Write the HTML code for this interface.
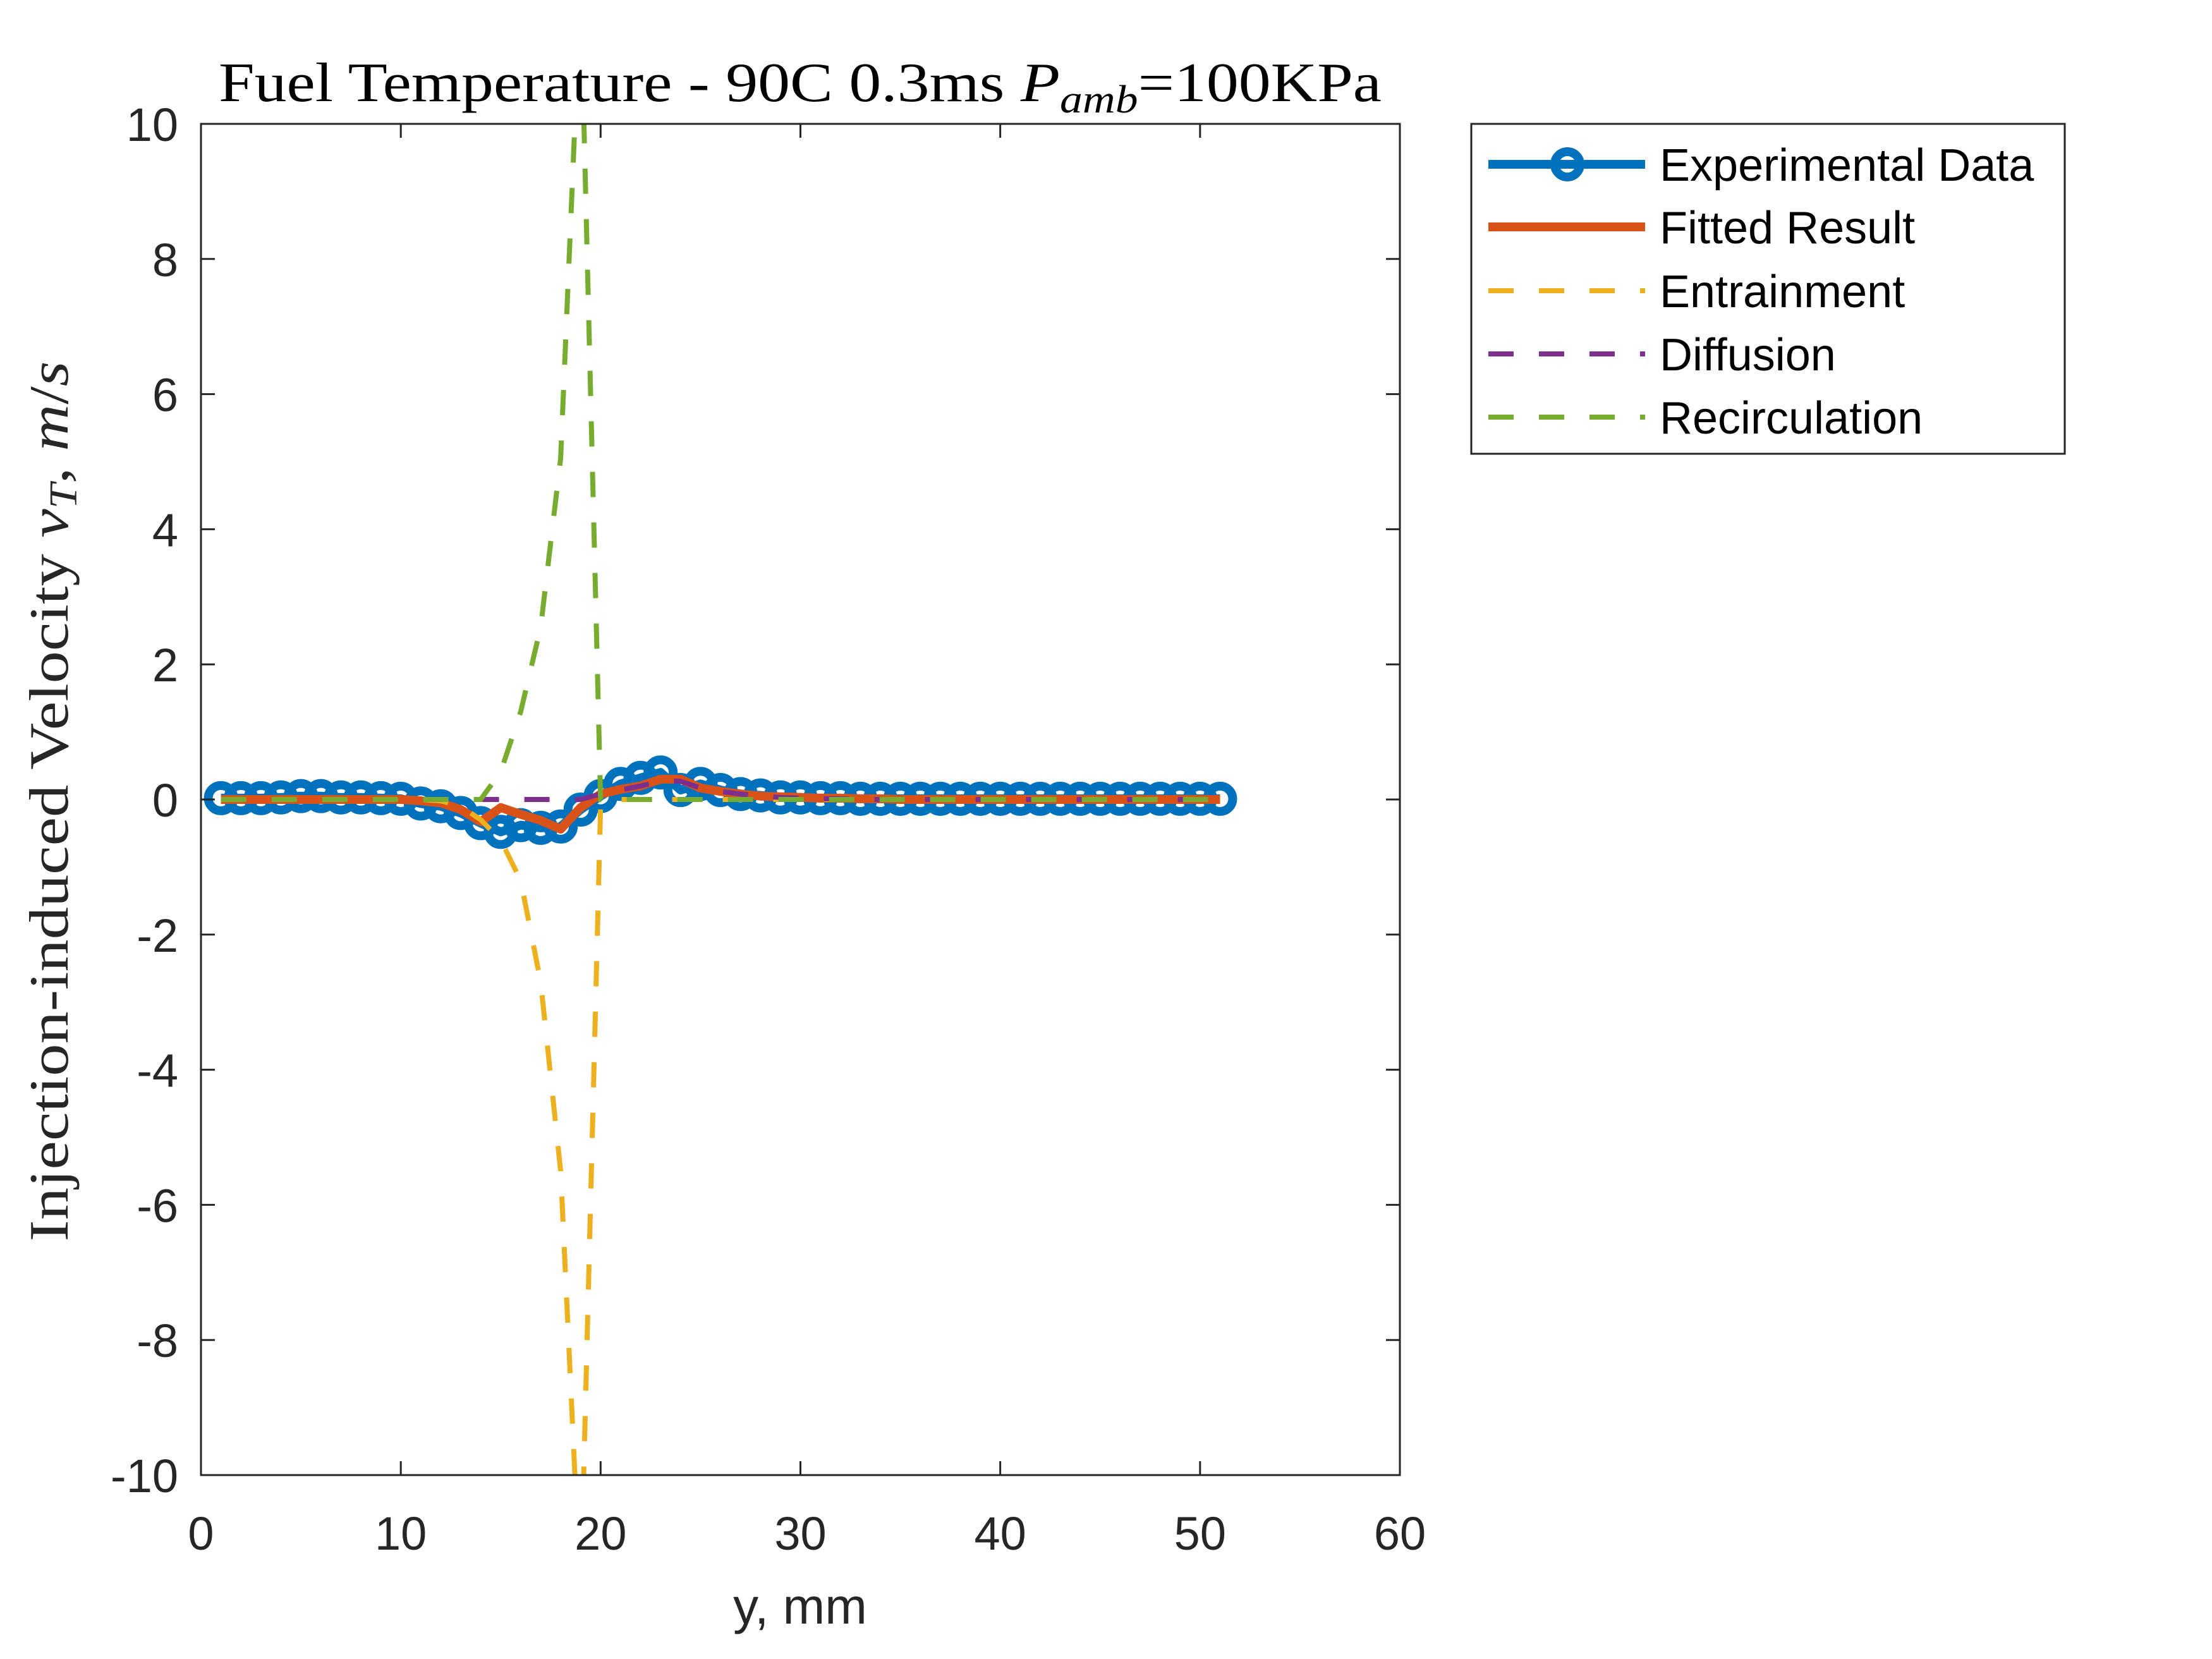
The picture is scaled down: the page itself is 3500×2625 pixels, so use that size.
<!DOCTYPE html>
<html><head><meta charset="utf-8"><style>
html,body{margin:0;padding:0;background:#fff;}
svg{display:block;}
</style></head><body>
<svg id="chart" width="3500" height="2625" viewBox="0 0 3500 2625" xmlns="http://www.w3.org/2000/svg">
<rect width="3500" height="2625" fill="#fff"/>
<text x="1266" y="160" text-anchor="middle" font-family="Liberation Serif, serif" font-size="88" fill="#000" textLength="1840" lengthAdjust="spacingAndGlyphs">Fuel Temperature - 90C 0.3ms <tspan font-style="italic">P</tspan><tspan font-style="italic" font-size="62" dy="18">amb</tspan><tspan dy="-18">=100KPa</tspan></text>
<text transform="translate(107,1268) rotate(-90)" text-anchor="middle" font-family="Liberation Serif, serif" font-size="88" fill="#262626" textLength="1393" lengthAdjust="spacingAndGlyphs">Injection-induced Velocity <tspan font-style="italic">v</tspan><tspan font-style="italic" font-size="62" dy="14">T</tspan><tspan dy="-14">, </tspan><tspan font-style="italic">m</tspan>/<tspan font-style="italic">s</tspan></text>
<text x="1266" y="2569" text-anchor="middle" font-family="Liberation Sans, sans-serif" font-size="80" fill="#262626">y, mm</text>
<g id="plot"></g>
<g id="axes"></g>
<g id="legend"></g>
</svg>
<script>
const xs = [1,2,3,4,5,6,7,8,9,10,11,12,13,14,15,16,17,18,19,20,21,22,23,24,25,26,27,28,29,30,31,32,33,34,35,36,37,38,39,40,41,42,43,44,45,46,47,48,49,50,51];
const experimental = [0.02,0.02,0.02,0.03,0.05,0.05,0.03,0.03,0.02,0.01,-0.06,-0.1,-0.2,-0.35,-0.48,-0.38,-0.42,-0.4,-0.15,0.05,0.23,0.32,0.4,0.14,0.23,0.14,0.08,0.06,0.03,0.03,0.02,0.02,0.01,0.01,0.01,0.01,0.01,0.01,0.01,0.01,0.01,0.01,0.01,0.01,0.01,0.01,0.01,0.01,0.01,0.01,0.01];
const fitted = [0,0,0,0,0,0,0,0,0,0,-0.02,-0.05,-0.15,-0.33,-0.12,-0.22,-0.31,-0.44,-0.12,0.08,0.15,0.2,0.3,0.3,0.17,0.12,0.08,0.05,0.04,0.03,0.02,0.02,0.01,0.01,0,0,0,0,0,0,0,0,0,0,0,0,0,0,0,0,0];
const entrainment = [0,0,0,0,0,0,0,0,0,0,0,-0.02,-0.1,-0.3,-0.6,-1.2,-2.7,-5.5,-11.8,-0.1,0,0,0,0,0,0,0,0,0,0,0,0,0,0,0,0,0,0,0,0,0,0,0,0,0,0,0,0,0,0,0];
const diffusion = [0,0,0,0,0,0,0,0,0,0,0,0,0,0,0,0,0,0,0,0.08,0.14,0.2,0.27,0.27,0.17,0.12,0.08,0.05,0.03,0.02,0.01,0.01,0,0,0,0,0,0,0,0,0,0,0,0,0,0,0,0,0,0,0];
const recirculation = [0,0,0,0,0,0,0,0,0,0,0,0,0,0,0.41,1.3,2.55,5.05,12,0,0,0,0,0,0,0,0,0,0,0,0,0,0,0,0,0,0,0,0,0,0,0,0,0,0,0,0,0,0,0,0];
const xTicks = [0,10,20,30,40,50,60];
const yTicks = [-10,-8,-6,-4,-2,0,2,4,6,8,10];
const seriesNames = ["Experimental Data","Fitted Result","Entrainment","Diffusion","Recirculation"];

const L=318,R=2215,T=196,B=2334;
const xmin=0,xmax=60,ymin=-10,ymax=10;
const sx=v=>L+(v-xmin)/(xmax-xmin)*(R-L);
const sy=v=>B-(v-ymin)/(ymax-ymin)*(B-T);
const NS="http://www.w3.org/2000/svg";
function mk(tag,attrs,parent){const e=document.createElementNS(NS,tag);for(const k in attrs)e.setAttribute(k,attrs[k]);parent.appendChild(e);return e;}
const plot=document.getElementById('plot');
const axes=document.getElementById('axes');
const leg=document.getElementById('legend');
const defs=mk('defs',{},document.getElementById('chart'));
const cp=mk('clipPath',{id:'clip'},defs);
mk('rect',{x:L,y:T,width:R-L,height:B-T},cp);
plot.setAttribute('clip-path','url(#clip)');
const pts=ys=>xs.map((x,i)=>sx(x).toFixed(1)+','+sy(ys[i]).toFixed(1)).join(' ');

const expLine=mk('polyline',{points:pts(experimental),fill:'none',stroke:'#0072BD','stroke-width':14,'stroke-linejoin':'round'},plot);


xs.forEach((x,i)=>{
  const c=mk('circle',{cx:sx(x),cy:sy(experimental[i]),r:20,fill:'none',stroke:'#0072BD','stroke-width':14},plot);
  
  
});
const fit=mk('polyline',{points:pts(fitted),fill:'none',stroke:'#D95319','stroke-width':14,'stroke-linejoin':'round'},plot);


const ent=mk('polyline',{points:pts(entrainment),fill:'none',stroke:'#EDB120','stroke-width':8,'stroke-dasharray':'40 40'},plot);


const dif=mk('polyline',{points:pts(diffusion),fill:'none',stroke:'#7E2F8E','stroke-width':8,'stroke-dasharray':'40 40'},plot);


const rec=mk('polyline',{points:pts(recirculation),fill:'none',stroke:'#77AC30','stroke-width':8,'stroke-dasharray':'40 40'},plot);



const box=mk('rect',{x:L,y:T,width:R-L,height:B-T,fill:'none',stroke:'#262626','stroke-width':3},axes);


xTicks.forEach(t=>{
  const x=sx(t);
  const tk=mk('path',{d:`M${x},${B}V${B-22}M${x},${T}V${T+22}`,stroke:'#262626','stroke-width':3},axes);
  
  
  const lb=mk('text',{x:x,y:2452,'text-anchor':'middle','font-family':'Liberation Sans, sans-serif','font-size':74,fill:'#262626'},axes);
  lb.textContent=t;
  
  
});
yTicks.forEach(t=>{
  const y=sy(t);
  const tk=mk('path',{d:`M${L},${y}H${L+22}M${R},${y}H${R-22}`,stroke:'#262626','stroke-width':3},axes);
  
  
  const lb=mk('text',{x:282,y:y+27,'text-anchor':'end','font-family':'Liberation Sans, sans-serif','font-size':74,fill:'#262626'},axes);
  lb.textContent=t;
  
  
});

const lbox=mk('rect',{x:2328,y:196,width:939,height:522,fill:'#fff',stroke:'#262626','stroke-width':3},leg);


const rowsY=[260,359,460,560,660];
const styles=[
  {c:'#0072BD',w:14,d:null,m:true},
  {c:'#D95319',w:14,d:null},
  {c:'#EDB120',w:8,d:'40 40'},
  {c:'#7E2F8E',w:8,d:'40 40'},
  {c:'#77AC30',w:8,d:'40 40'}];
seriesNames.forEach((n,i)=>{
  const y=rowsY[i], s=styles[i];
  const g=mk('g',{},leg);
  
  
  const a={x1:2355,x2:2603,y1:y,y2:y,stroke:s.c,'stroke-width':s.w};
  if(s.d)a['stroke-dasharray']=s.d;
  mk('line',a,g);
  if(s.m)mk('circle',{cx:2480,cy:y,r:20,fill:'none',stroke:s.c,'stroke-width':14},g);
  const t=mk('text',{x:2626,y:y+26,'font-family':'Liberation Sans, sans-serif','font-size':72,fill:'#000'},g);
  t.textContent=n;
});
</script>
</body></html>
